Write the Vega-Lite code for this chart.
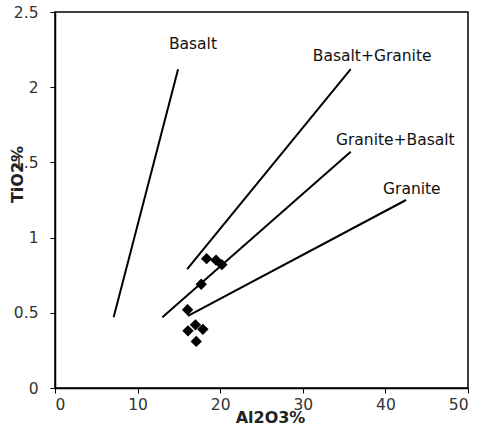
{
  "$schema": "https://vega.github.io/schema/vega-lite/v6.json",
  "width": 413,
  "height": 376,
  "autosize": "none",
  "padding": {"left": 55, "top": 12, "right": 11, "bottom": 42},
  "background": "white",
  "config": {
    "view": {"stroke": "black", "strokeWidth": 1.5},
    "font": "DejaVu Sans",
    "axis": {"grid": false, "domainColor": "black", "domainWidth": 1.5, "tickColor": "black", "tickWidth": 1, "tickSize": 5, "labelColor": "#333333", "labelFontSize": 15.5, "labelFont": "DejaVu Sans", "titleFont": "DejaVu Sans", "titleFontSize": 16, "titleFontWeight": "bold", "titleColor": "#222222"}
  },
  "datasets": {
    "lines": [
      {"series": "Basalt", "x": 7.1, "y": 0.47},
      {"series": "Basalt", "x": 14.9, "y": 2.12},
      {"series": "Basalt+Granite", "x": 16.0, "y": 0.79},
      {"series": "Basalt+Granite", "x": 35.8, "y": 2.12},
      {"series": "Granite+Basalt", "x": 13.0, "y": 0.47},
      {"series": "Granite+Basalt", "x": 35.8, "y": 1.57},
      {"series": "Granite", "x": 16.1, "y": 0.48},
      {"series": "Granite", "x": 42.5, "y": 1.25}
    ],
    "points": [
      {"x": 18.35, "y": 0.86},
      {"x": 19.5, "y": 0.85},
      {"x": 20.2, "y": 0.82},
      {"x": 17.7, "y": 0.69},
      {"x": 16.05, "y": 0.52},
      {"x": 16.1, "y": 0.38},
      {"x": 17.0, "y": 0.42},
      {"x": 17.9, "y": 0.39},
      {"x": 17.1, "y": 0.31}
    ],
    "labels": [
      {"label": "Basalt", "x": 16.7, "y": 2.29},
      {"label": "Basalt+Granite", "x": 38.4, "y": 2.21},
      {"label": "Granite+Basalt", "x": 41.2, "y": 1.65},
      {"label": "Granite", "x": 43.2, "y": 1.32}
    ]
  },
  "layer": [
    {
      "data": {"name": "lines"},
      "mark": {"type": "line", "color": "black", "strokeWidth": 2},
      "encoding": {
        "x": {"field": "x", "type": "quantitative", "scale": {"domain": [0, 50], "nice": false}, "axis": {"values": [0, 10, 20, 30, 40, 50], "title": "Al2O3%", "titleX": 215, "titleY": 29, "titleBaseline": "middle", "labelPadding": 4}},
        "y": {"field": "y", "type": "quantitative", "scale": {"domain": [0, 2.5], "nice": false}, "axis": {"values": [0, 0.5, 1, 1.5, 2, 2.5], "labelExpr": "datum.value", "title": "TiO2%", "titleX": -38, "titleY": 162, "titleBaseline": "middle", "labelPadding": 12}},
        "detail": {"field": "series"}
      }
    },
    {
      "data": {"name": "points"},
      "mark": {"type": "point", "shape": "diamond", "filled": true, "color": "black", "opacity": 1, "size": 130},
      "encoding": {
        "x": {"field": "x", "type": "quantitative"},
        "y": {"field": "y", "type": "quantitative"}
      }
    },
    {
      "data": {"name": "labels"},
      "mark": {"type": "text", "color": "#111111", "fontSize": 15.5, "font": "DejaVu Sans", "align": "center", "baseline": "middle"},
      "encoding": {
        "x": {"field": "x", "type": "quantitative"},
        "y": {"field": "y", "type": "quantitative"},
        "text": {"field": "label"}
      }
    }
  ]
}
